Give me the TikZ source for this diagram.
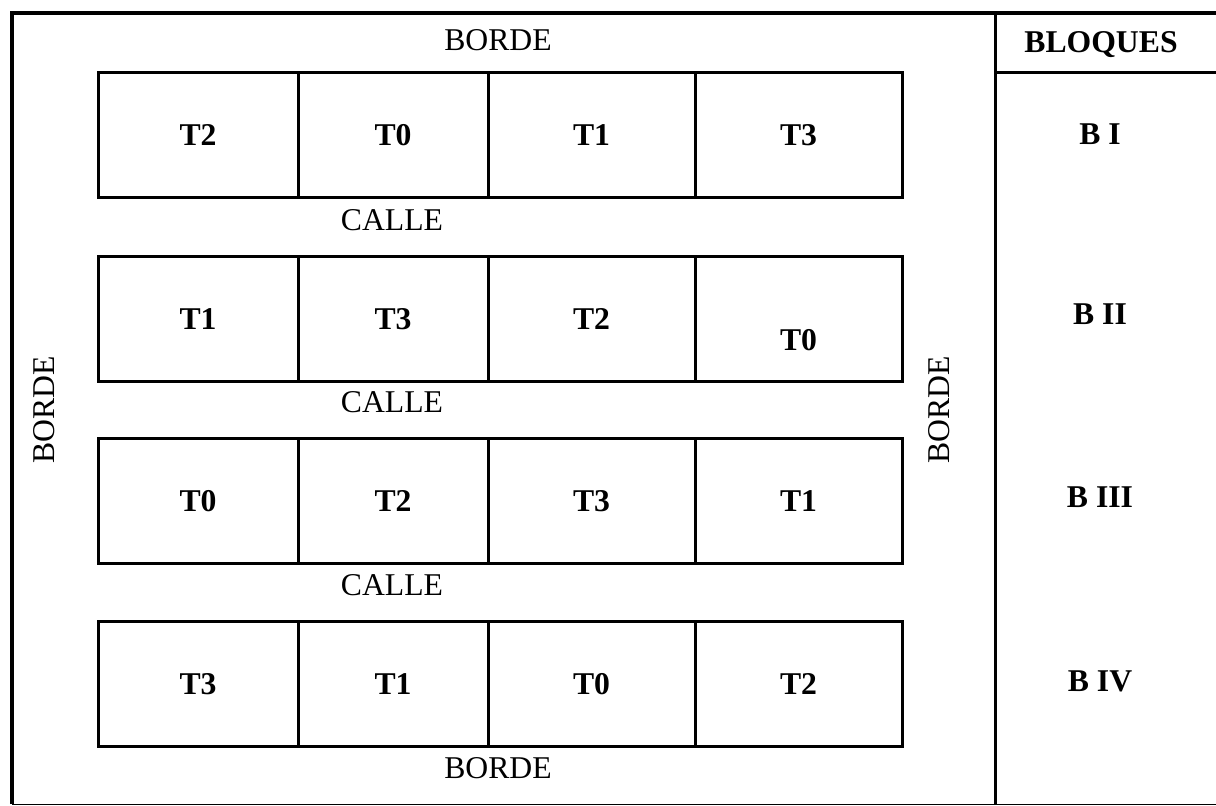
\documentclass[tikz,border=0pt]{standalone}
\usepackage{fontspec}
\setmainfont{Liberation Serif}
\usetikzlibrary{positioning}
\newcommand{\fieldsize}{\fontsize{15.85}{19}\selectfont}
\tikzset{
    plot/.style={draw, line width=1.5pt, minimum height=62.5pt, align=center,
    font=\fieldsize\bfseries, text height=10.5pt, text depth=0pt,
    inner sep=0pt, outer sep=0pt},
    tag/.style={font=\fieldsize\bfseries, text height=10.5pt, text depth=0pt, inner sep=0pt},
    lane/.style={font=\fieldsize, text height=10.5pt, text depth=0pt, inner sep=0pt},
}

\begin{document}
\begin{tikzpicture}[
            x=0.5pt, y=-0.5pt,
            frame/.style={line width=1.5pt},
            node distance=0pt
        ]
            \useasboundingbox (0,0) rectangle (1216,805);
            % field frame
            \draw[frame, line width=1.8pt] (1216,13) -- (12,13) -- (12,804);
            \draw[line width=0.5pt] (12,804) -- (1216,804);
            \draw[frame] (995,13) -- (995,804);
            \draw[frame] (995,72) -- (1216,72);
            % borders and streets
            \node[lane] (bordeN) at (498,40) {BORDE};
            \node[lane] (bordeS) at (498,768) {BORDE};
            \node[lane, rotate=90] (bordeW) at (44,410) {BORDE};
            \node[lane, rotate=90] (bordeE) at (939,410) {BORDE};
            \node[lane] (calle1) at (392,220) {CALLE};
            \node[lane] (calle2) at (392,402) {CALLE};
            \node[lane] (calle3) at (392,585) {CALLE};
            % bloque I
            \node[plot, minimum width=100pt, anchor=north west] (b1c1) at (98,72) {T2};
            \node[plot, minimum width=95pt, right=of b1c1] (b1c2) {T0};
            \node[plot, minimum width=103.5pt, right=of b1c2] (b1c3) {T1};
            \node[plot, minimum width=103.5pt, right=of b1c3] (b1c4) {T3};
            % bloque II
            \node[plot, minimum width=100pt, anchor=north west] (b2c1) at (98,256) {T1};
            \node[plot, minimum width=95pt, right=of b2c1] (b2c2) {T3};
            \node[plot, minimum width=103.5pt, right=of b2c2] (b2c3) {T2};
            \node[plot, minimum width=103.5pt, right=of b2c3] (b2c4) {};
            \node[tag] (t2c4) at ([yshift=-10.5pt]b2c4.center) {T0};
            % bloque III
            \node[plot, minimum width=100pt, anchor=north west] (b3c1) at (98,438) {T0};
            \node[plot, minimum width=95pt, right=of b3c1] (b3c2) {T2};
            \node[plot, minimum width=103.5pt, right=of b3c2] (b3c3) {T3};
            \node[plot, minimum width=103.5pt, right=of b3c3] (b3c4) {T1};
            % bloque IV
            \node[plot, minimum width=100pt, anchor=north west] (b4c1) at (98,621) {T3};
            \node[plot, minimum width=95pt, right=of b4c1] (b4c2) {T1};
            \node[plot, minimum width=103.5pt, right=of b4c2] (b4c3) {T0};
            \node[plot, minimum width=103.5pt, right=of b4c3] (b4c4) {T2};
            % block column
            \node[tag] (head) at (1101,42) {BLOQUES};
            \node[tag] (bI) at (1100,134) {B I};
            \node[tag] (bII) at (1100,314) {B II};
            \node[tag] (bIII) at (1100,497) {B III};
            \node[tag] (bIV) at (1100,681) {B IV};
        \end{tikzpicture}
\end{document}
